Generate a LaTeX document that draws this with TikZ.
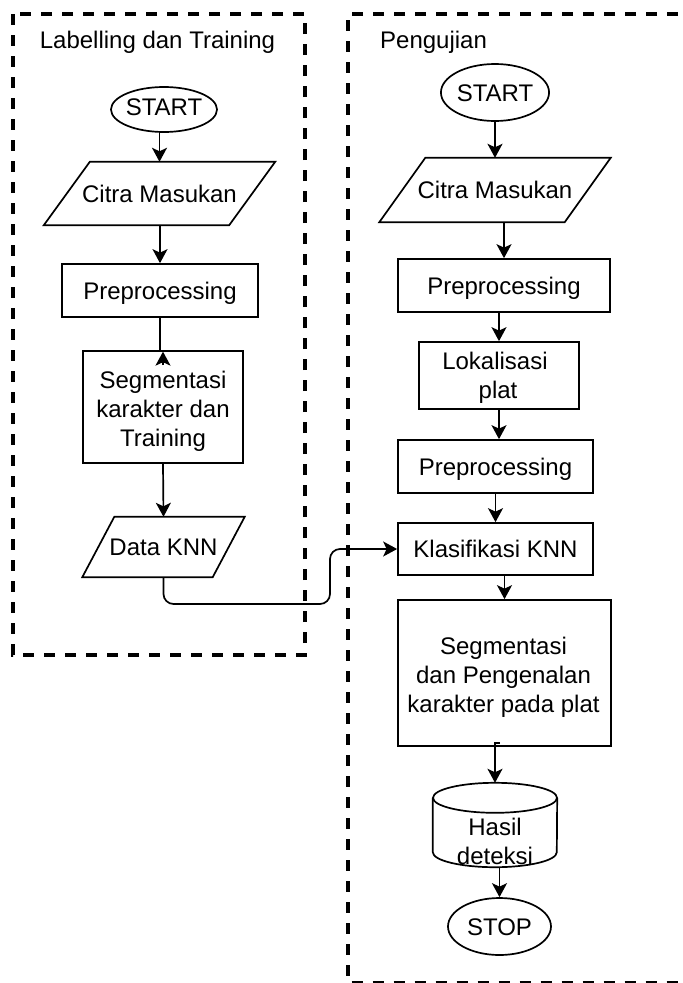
\documentclass[tikz,border=0pt]{standalone}
\usepackage{fontspec}
\setmainfont{Liberation Sans}
\usetikzlibrary{shapes.geometric,arrows.meta,calc}
\tikzset{
  base/.style={font=\fontsize{24pt}{29pt}\selectfont, align=center, inner sep=0pt, text=black},
  one/.style={base, text height=17pt, text depth=0pt},
  proc/.style={base, draw, rectangle, line width=1.7pt},
  term/.style={base, draw, ellipse, line width=1.7pt},
  io/.style={base, rectangle},
  shp/.style={line width=1.7pt},
  ln/.style={line width=1.7pt},
  arr/.style={ln, -{Stealth[length=14pt,width=15pt,inset=3.5pt]}},
  grp/.style={line width=3.5pt, dash pattern=on 11pt off 10pt}
}
\begin{document}
\begin{tikzpicture}[x=1pt,y=-1pt]
\useasboundingbox (0,0) rectangle (683,983);
\fill[white] (0,0) rectangle (683,983);
\begin{scope}
  \clip (0,0) rectangle (683,983);
  \draw[grp] (13,14) rectangle (305,655);
  \draw[grp] (720,14) -- (348,14) -- (348,982.5) -- (720,982.5);
\end{scope}

% titles
\node[one] (t1) at (157.5,39.5) {Labelling dan Training};
\node[one, anchor=west] (t2) at (380,40) {Pengujian};

% left column
\node[term, minimum width=106pt, minimum height=45pt] (s1) at (164,109.5) {};
\node[one] (s1t) at (164,106.5) {START};
\node[io, one, minimum width=185pt, minimum height=63pt] (cm1) at (159.5,193.5) {Citra Masukan};
\node[proc, one, minimum width=196pt, minimum height=53pt] (p1) at (160,290.5) {Preprocessing};
\node[proc, minimum width=160pt, minimum height=112pt] (sg1) at (163,407) {};
\node[base] (sg1t) at (163,411) {Segmentasi\\karakter dan\\Training};
\node[io, one, minimum width=130pt, minimum height=60pt] (dk) at (163.5,547) {Data KNN};

\draw[shp] ($(cm1.north west)+(23,0)$) -- ($(cm1.north east)+(23,0)$) -- ($(cm1.south east)+(-23,0)$) -- ($(cm1.south west)+(-23,0)$) -- cycle;
\draw[shp] ($(dk.north west)+(16,0)$) -- ($(dk.north east)+(16,0)$) -- ($(dk.south east)+(-16,0)$) -- ($(dk.south west)+(-16,0)$) -- cycle;

% right column
\node[term, one, minimum width=104pt, minimum height=57pt] (s2) at (495,92.5) {START};
\node[io, one, minimum width=185pt, minimum height=64pt] (cm2) at (495,190) {Citra Masukan};
\node[proc, one, minimum width=212pt, minimum height=53pt] (p2) at (504,285.5) {Preprocessing};
\node[proc, minimum width=160pt, minimum height=67pt] (lk) at (499,375.5) {};
\node[base] (lkt) at (498,378) {Lokalisasi\hspace*{6pt}\\plat};
\node[proc, one, minimum width=195pt, minimum height=53pt] (p3) at (495.5,466.5) {Preprocessing};
\node[proc, one, minimum width=195pt, minimum height=52pt] (kl) at (495.5,549) {Klasifikasi KNN};
\node[proc, minimum width=213pt, minimum height=146pt] (sg2) at (504.5,673) {};
\node[base] (sg2t) at (503.5,677) {Segmentasi\\dan Pengenalan\\karakter pada plat};
\node[io, minimum width=124pt, minimum height=56pt] (hs) at (495,839) {};
\node[base] (hst) at (495,841) {Hasil\\deteksi};
\node[term, one, minimum width=103pt, minimum height=57pt] (st) at (499.5,926.5) {STOP};

\draw[shp] ($(cm2.north west)+(23,0)$) -- ($(cm2.north east)+(23,0)$) -- ($(cm2.south east)+(-23,0)$) -- ($(cm2.south west)+(-23,0)$) -- cycle;

\coordinate (hstop) at ($(hs.north)+(0,-28)$);
\draw[shp] ($(hs.north)+(0,-13)$) ellipse [x radius=62pt, y radius=15pt];
\draw[shp] ($(hs.north west)+(0,-13)$) -- ($(hs.south west)+(0,-15)$)
  arc[start angle=180, end angle=360, x radius=62pt, y radius=15pt] -- ($(hs.north east)+(0,-13)$);

% connectors left
\draw[arr] (cm1.north |- s1.south) -- (cm1.north);
\draw[arr] (p1.north |- cm1.south) -- (p1.north);
\draw[ln] (p1.south) -- (p1.south |- sg1.north);
\draw[arr] ($(sg1.north)+(0,15)$) -- ($(sg1.north)+(0,1.5)$);
\draw[arr] (sg1.south) -- (dk.north);
\coordinate (bend) at (330,604);
\draw[arr, rounded corners=10pt] (dk.south) |- (bend) |- (kl.west);

% connectors right
\draw[arr] (s2.south) -- (cm2.north);
\draw[arr] (p2.north |- cm2.south) -- (p2.north);
\draw[arr] (lk.north |- p2.south) -- (lk.north);
\draw[arr] (lk.south) -- (lk.south |- p3.north);
\draw[arr] (p3.south) -- (kl.north);
\draw[arr] (sg2.north |- kl.south) -- (sg2.north);
\draw[arr] ($(hs.north |- sg2.south)+(5,-4)$) -- ($(hs.north |- sg2.south)+(0,-4)$) -- (hstop);
\draw[arr] (st.north |- hs.south) -- (st.north);
\end{tikzpicture}
\end{document}
